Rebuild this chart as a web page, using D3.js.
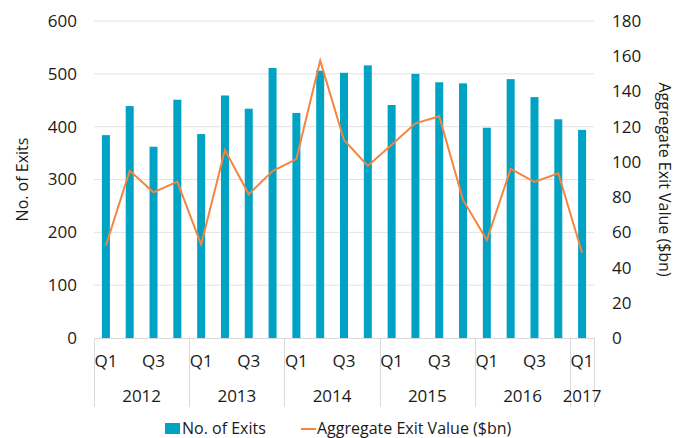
<!DOCTYPE html>
<html>
<head>
<meta charset="utf-8">
<script src="https://cdn.jsdelivr.net/npm/d3@7"></script>
<style>
  html, body { margin: 0; padding: 0; background: #fff; }
  svg { display: block; font-family: "Open Sans", sans-serif; }
</style>
</head>
<body>
<svg id="chart" width="676" height="438"></svg>
<script>
const years = ["2012", "2013", "2014", "2015", "2016", "2017"];
const quarters = ["Q1","Q2","Q3","Q4","Q1","Q2","Q3","Q4","Q1","Q2","Q3","Q4","Q1","Q2","Q3","Q4","Q1","Q2","Q3","Q4","Q1"];
const quarterYears = ["2012","2012","2012","2012","2013","2013","2013","2013","2014","2014","2014","2014","2015","2015","2015","2015","2016","2016","2016","2016","2017"];
const exits = [384, 439, 362, 451, 386, 459, 434, 511, 426, 506, 502, 516, 441, 500, 484, 482, 398, 490, 456, 414, 394];
const exitValue = [52.5, 95, 82.7, 88.8, 53, 106.8, 81.6, 94.8, 101.6, 157.5, 112.4, 97.7, 109.8, 121.9, 125.9, 78.4, 55.6, 96, 88.6, 93.5, 48.4];
const leftTicks = [0, 100, 200, 300, 400, 500, 600];
const rightTicks = [0, 20, 40, 60, 80, 100, 120, 140, 160, 180];

const svg = d3.select("#chart");
const m = { left: 94, right: 594, top: 21, bottom: 338 };
const ids = d3.range(exits.length);

const x = d3.scaleBand().domain(ids).range([m.left, m.right]).paddingInner(0).paddingOuter(0);
const yL = d3.scaleLinear().domain([0, 600]).range([m.bottom, m.top]);
const yR = d3.scaleLinear().domain([0, 180]).range([m.bottom, m.top]);

const textColor = "#1a1a1a";
const gridColor = "#e3e3e3";
const fs = 17;

// gridlines
svg.append("g").selectAll("line").data(leftTicks.filter(d => d > 0)).join("line")
  .attr("x1", m.left).attr("x2", m.right)
  .attr("y1", d => yL(d)).attr("y2", d => yL(d))
  .attr("stroke", gridColor).attr("stroke-width", 1);

// bars
const barW = 8;
svg.append("g").selectAll("rect").data(ids).join("rect")
  .attr("x", i => x(i) + x.bandwidth() / 2 - barW / 2)
  .attr("width", barW)
  .attr("y", i => yL(exits[i]))
  .attr("height", i => yL(0) - yL(exits[i]))
  .attr("fill", "#00A3C4");

// line
const line = d3.line().x(i => x(i) + x.bandwidth() / 2).y(i => yR(exitValue[i]));
svg.append("path").datum(ids).attr("d", line)
  .attr("fill", "none").attr("stroke", "#F4843F").attr("stroke-width", 2)
  .attr("stroke-linejoin", "miter");

// x axis baseline
svg.append("line").attr("x1", m.left).attr("x2", m.right)
  .attr("y1", m.bottom + 0.5).attr("y2", m.bottom + 0.5)
  .attr("stroke", "#d9d9d9").attr("stroke-width", 1);

// year group separators
const yearStart = years.map(yr => quarterYears.indexOf(yr));
const sepX = yearStart.map(i => x(i)).concat([x(ids.length - 1) + x.bandwidth()]);
svg.append("g").selectAll("line").data(sepX).join("line")
  .attr("x1", d => Math.round(d) + 0.5).attr("x2", d => Math.round(d) + 0.5)
  .attr("y1", m.bottom).attr("y2", 407)
  .attr("stroke", "#d9d9d9").attr("stroke-width", 1);

// quarter labels (every other)
svg.append("g").selectAll("text").data(ids.filter(i => quarters[i] === "Q1" || quarters[i] === "Q3")).join("text")
  .attr("x", i => x(i) + x.bandwidth() / 2)
  .attr("y", 367)
  .attr("text-anchor", "middle")
  .attr("font-size", fs).attr("fill", textColor)
  .text(i => quarters[i]);

// year labels
svg.append("g").selectAll("text").data(years).join("text")
  .attr("x", (yr, k) => (sepX[k] + sepX[k + 1]) / 2)
  .attr("y", 402)
  .attr("text-anchor", "middle")
  .attr("font-size", fs).attr("fill", textColor)
  .text(d => d);

// left axis ticks
const leftAxis = d3.axisLeft(yL).tickValues(leftTicks).tickSize(0).tickPadding(17);
const gL = svg.append("g").attr("transform", `translate(${m.left},0)`).call(leftAxis);
gL.select(".domain").remove();
gL.selectAll("text").attr("font-size", fs).attr("fill", textColor).attr("font-family", "Open Sans, sans-serif");

// right axis ticks
const rightAxis = d3.axisRight(yR).tickValues(rightTicks).tickSize(0).tickPadding(18);
const gR = svg.append("g").attr("transform", `translate(${m.right},0)`).call(rightAxis);
gR.select(".domain").remove();
gR.selectAll("text").attr("font-size", fs).attr("fill", textColor).attr("font-family", "Open Sans, sans-serif");

// axis titles
svg.append("text")
  .attr("transform", `translate(28,${(m.top + m.bottom) / 2}) rotate(-90)`)
  .attr("text-anchor", "middle").attr("font-size", 16).attr("fill", textColor)
  .text("No. of Exits");
svg.append("text")
  .attr("transform", `translate(659,${(m.top + m.bottom) / 2}) rotate(90)`)
  .attr("text-anchor", "middle").attr("font-size", 16).attr("fill", textColor)
  .text("Aggregate Exit Value ($bn)");

// legend
const lg = svg.append("g");
lg.append("rect").attr("x", 165).attr("y", 423).attr("width", 15).attr("height", 11).attr("fill", "#00A3C4");
lg.append("text").attr("x", 182).attr("y", 433.5).attr("font-size", 16).attr("fill", textColor).text("No. of Exits");
lg.append("line").attr("x1", 301).attr("x2", 316).attr("y1", 429).attr("y2", 429)
  .attr("stroke", "#F4843F").attr("stroke-width", 2);
lg.append("text").attr("x", 317).attr("y", 433.5).attr("font-size", 16).attr("fill", textColor).text("Aggregate Exit Value ($bn)");
</script>
</body>
</html>
